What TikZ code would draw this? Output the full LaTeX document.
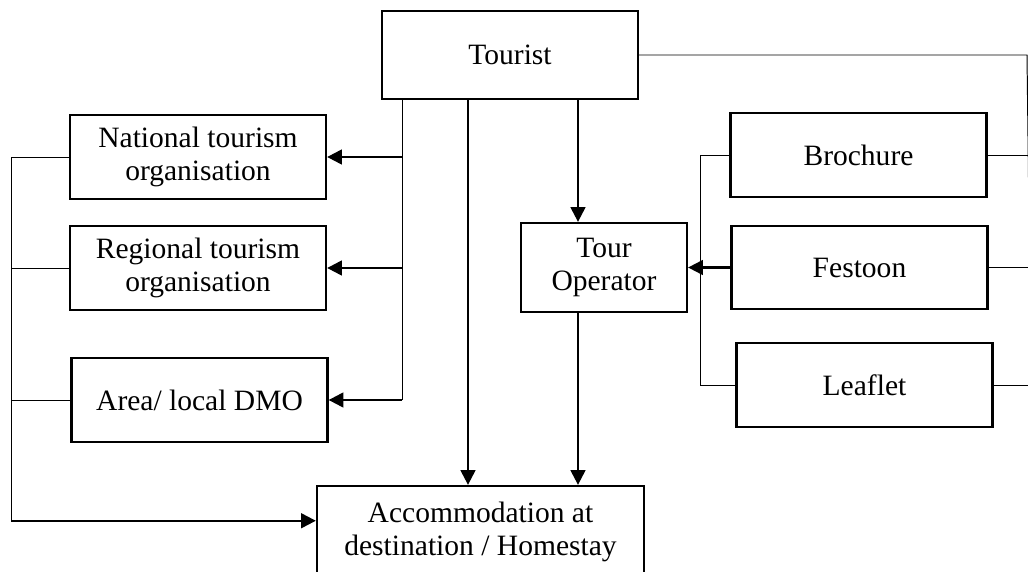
\documentclass[tikz,border=0pt]{standalone}
\usepackage{fontspec}
\setmainfont{Liberation Serif}
\usetikzlibrary{arrows.meta}

\begin{document}
\begin{tikzpicture}[
  x=0.025cm, y=-0.025cm, line join=miter,
  box/.style={draw=black, line width=1.6pt, align=center, inner sep=2pt,
    font=\fontsize{21}{23.5}\selectfont},
  wide/.style={minimum width=6.4cm, minimum height=2.1cm},
  feed/.style={black, line width=0.7pt},
  arr/.style={black, line width=1.6pt, -{Triangle[length=10.5pt, width=10.5pt]}},
]

\path[use as bounding box] (0,0) rectangle (1028,572);

% Boxes
\node[box, minimum width=6.4cm, minimum height=2.2cm] (tourist) at (510,55) {Tourist};
\node[box, wide] (nto) at (198,157) {National tourism\\organisation};
\node[box, wide] (rto) at (198,268) {Regional tourism\\organisation};
\node[box, wide] (dmo) at (199.5,400) {Area/ local DMO};
\node[box, minimum width=4.15cm, minimum height=2.225cm] (tourop) at (604,267.5) {Tour\\Operator};
\node[box, wide] (broch) at (858.5,155) {Brochure};
\node[box, wide, minimum height=2.075cm] (fest) at (859.5,267.5) {Festoon};
\node[box, wide] (leaf) at (864.5,385) {Leaflet};
\node[box, minimum width=8.175cm, minimum height=2.3cm] (accom) at (480.5,532)
  {Accommodation at\\destination / Homestay};

% Tourist down
\coordinate (xa) at (468,0);
\coordinate (xb) at (578,0);
\draw[arr] (tourist.south -| xa) -- (accom.north -| xa);
\draw[arr] (tourist.south -| xb) -- (tourop.north -| xb);
\draw[arr] (tourop.south -| xb) -- (accom.north -| xb);

% Tourism organisations
\coordinate (xc) at (402,0);
\draw[feed] (tourist.south -| xc) -- (xc |- dmo.east);
\foreach \org in {nto,rto,dmo} {
  \draw[arr] (xc |- \org.east) -- (\org.east);
}

\coordinate (xl) at (11,0);
\coordinate (accin) at ([yshift=8pt]accom.west);
\foreach \org in {nto,rto,dmo} {
  \draw[feed] (\org.west) -- (xl |- \org.west);
}
\draw[feed] (xl |- nto.west) -- (xl |- accin);
\draw[arr] (xl |- accin) -- (accin);

% Media
\coordinate (xr) at (700,0);
\draw[feed] (xr |- broch.west) -- (xr |- leaf.west);
\draw[feed] (broch.west) -- (xr |- broch.west);
\draw[feed] (leaf.west) -- (xr |- leaf.west);
\draw[arr] (fest.west) -- (tourop.east);

\coordinate (xe) at (1027,0);
\coordinate (xf) at (1031,0);
\draw[feed] (tourist.east) -- (xe |- tourist.east) -- (xf |- leaf.east);
\foreach \med in {broch,fest,leaf} {
  \draw[feed] (\med.east) -- (xf |- \med.east);
}

\end{tikzpicture}
\end{document}
